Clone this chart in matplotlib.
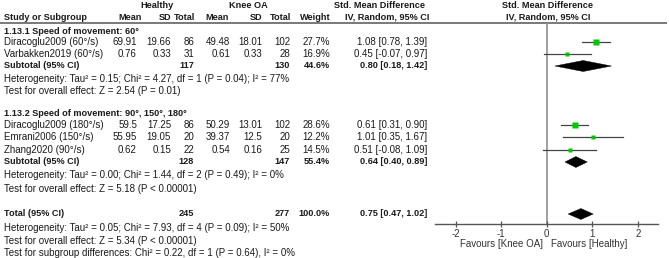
import matplotlib
matplotlib.use("Agg")
import matplotlib.pyplot as plt
from matplotlib.patches import Polygon

plt.rcParams['font.family'] = ['Liberation Sans', 'DejaVu Sans']

# ---------------- data ----------------
studies = ["Diracoglu2009 (60°/s)", "Varbakken2019 (60°/s)",
           "Diracoglu2009 (180°/s)", "Emrani2006 (150°/s)", "Zhang2020 (90°/s)"]
h_mean = [69.91, 0.76, 59.5, 55.95, 0.62]
h_sd = [19.66, 0.33, 17.25, 19.05, 0.15]
h_n = [86, 31, 86, 20, 22]
k_mean = [49.48, 0.61, 50.29, 39.37, 0.54]
k_sd = [18.01, 0.33, 13.01, 12.5, 0.16]
k_n = [102, 28, 102, 20, 25]
weights = [27.7, 16.9, 28.6, 12.2, 14.5]
smd = [1.08, 0.45, 0.61, 1.01, 0.51]
smd_lo = [0.78, -0.07, 0.31, 0.35, -0.08]
smd_hi = [1.39, 0.97, 0.90, 1.67, 1.09]

group_titles = ["1.13.1 Speed of movement: 60°", "1.13.2 Speed of movement: 90°, 150°, 180°"]
sub_h_n = [117, 128]
sub_k_n = [130, 147]
sub_w = [44.6, 55.4]
sub_smd = [0.80, 0.64]
sub_lo = [0.18, 0.40]
sub_hi = [1.42, 0.89]
sub_het = ["Heterogeneity: Tau² = 0.15; Chi² = 4.27, df = 1 (P = 0.04); I² = 77%",
           "Heterogeneity: Tau² = 0.00; Chi² = 1.44, df = 2 (P = 0.49); I² = 0%"]
sub_test = ["Test for overall effect: Z = 2.54 (P = 0.01)",
            "Test for overall effect: Z = 5.18 (P < 0.00001)"]

tot_h_n, tot_k_n, tot_w = 245, 277, 100.0
tot_smd, tot_lo, tot_hi = 0.75, 0.47, 1.02
tot_het = "Heterogeneity: Tau² = 0.05; Chi² = 7.93, df = 4 (P = 0.09); I² = 50%"
tot_test = "Test for overall effect: Z = 5.34 (P < 0.00001)"
subgroup_test = "Test for subgroup differences: Chi² = 0.22, df = 1 (P = 0.64), I² = 0%"

tick_vals = [-2, -1, 0, 1, 2]
fav_left, fav_right = "Favours [Knee OA]", "Favours [Healthy]"

# ---------------- layout ----------------
W, H = 669, 258
FS = 7.0      # normal text
FSB = 6.6     # bold text
TXT = '#1a1a1a'
GREEN = '#00c800'
fig = plt.figure(figsize=(W / 100, H / 100), dpi=100)
ax = fig.add_axes([0, 0, 1, 1])
ax.set_xlim(0, W)
ax.set_ylim(H, 0)
ax.axis('off')

zero_px, unit_px = 546.7, 45.6
x_left, x_right, axis_y = 435, 658, 224
fx = fig.add_axes([x_left / W, (H - axis_y) / H, (x_right - x_left) / W, axis_y / H])
fx.set_xlim((x_left - zero_px) / unit_px, (x_right - zero_px) / unit_px)
fx.set_ylim(axis_y, 0)
fx.patch.set_alpha(0)
for s in ['top', 'left', 'right']:
    fx.spines[s].set_visible(False)
fx.spines['bottom'].set_color('#555555')
fx.spines['bottom'].set_linewidth(1.0)
fx.set_yticks([])
fx.set_xticks(tick_vals)
fx.set_xticklabels([str(v) for v in tick_vals])
fx.tick_params(axis='x', direction='inout', length=5, width=0.9, color='#555555',
               labelsize=FS, labelcolor='#333333', pad=1.0)

# row positions (pixels from top)
study_rows = [[42, 54], [125, 137, 150]]
title_rows = [31, 113]
sub_rows = [66, 162]
het_rows = [79, 175]
test_rows = [91, 189]
tot_row, tot_het_row, tot_test_row, sg_row = 214, 228, 241, 253

cols = dict(hm=137, hsd=171, hn=194, km=230, ksd=262, kn=290, w=330, ci=427)


def txt(x, y, s, ha='left', bold=False, color=TXT):
    ax.text(x, y, s, ha=ha, va='center', fontsize=FSB if bold else FS,
            fontweight='bold' if bold else 'normal', color=color)


# headers
txt(157, 6, "Healthy", 'center', True)
txt(248, 6, "Knee OA", 'center', True)
txt(380, 6, "Std. Mean Difference", 'center', True)
txt(547, 6, "Std. Mean Difference", 'center', True)
txt(4, 17, "Study or Subgroup", 'left', True)
hdr = [("Mean", 142), ("SD", 171), ("Total", 195), ("Mean", 229), ("SD", 262), ("Total", 291), ("Weight", 331)]
for t, x in hdr:
    txt(x, 17, t, 'right', True)
txt(387, 17, "IV, Random, 95% CI", 'center', True)
txt(548, 17, "IV, Random, 95% CI", 'center', True)
ax.plot([0, 667], [23.3, 23.3], color='#555555', lw=1.1, solid_capstyle='butt')

# zero line
fx.plot([0, 0], [23.8, axis_y], color='#999999', lw=1.3, zorder=1)


def num(v):
    return f"{v:g}"


def diamond(y, est, lo, hi):
    half = 5.5
    fx.add_patch(Polygon([[lo, y], [est, y - half], [hi, y], [est, y + half]],
                         closed=True, facecolor='black', edgecolor='black', lw=0.3, zorder=3))


idx = 0
for g in range(2):
    txt(4, title_rows[g], group_titles[g], 'left', True)
    for y in study_rows[g]:
        i = idx
        txt(4, y, studies[i])
        vals = [(num(h_mean[i]), 'hm'), (num(h_sd[i]), 'hsd'), (str(h_n[i]), 'hn'),
                (num(k_mean[i]), 'km'), (num(k_sd[i]), 'ksd'), (str(k_n[i]), 'kn'),
                (f"{weights[i]:.1f}%", 'w'),
                (f"{smd[i]:.2f} [{smd_lo[i]:.2f}, {smd_hi[i]:.2f}]", 'ci')]
        for t, c in vals:
            txt(cols[c], y, t, 'right')
        fx.plot([smd_lo[i], smd_hi[i]], [y, y], color='#444444', lw=0.9, zorder=2)
        side_px = 1.2 + 0.15 * weights[i]
        fx.plot([smd[i]], [y], marker='s', ms=side_px * 0.72, color=GREEN, mec='none',
                ls='none', zorder=4)
        idx += 1
    y = sub_rows[g]
    txt(4, y, "Subtotal (95% CI)", 'left', True)
    for t, c in [(str(sub_h_n[g]), 'hn'), (str(sub_k_n[g]), 'kn'), (f"{sub_w[g]:.1f}%", 'w'),
                 (f"{sub_smd[g]:.2f} [{sub_lo[g]:.2f}, {sub_hi[g]:.2f}]", 'ci')]:
        txt(cols[c], y, t, 'right', True)
    diamond(y, sub_smd[g], sub_lo[g], sub_hi[g])
    txt(4, het_rows[g], sub_het[g])
    txt(4, test_rows[g], sub_test[g])

# total
y = tot_row
txt(4, y, "Total (95% CI)", 'left', True)
for t, c in [(str(tot_h_n), 'hn'), (str(tot_k_n), 'kn'), (f"{tot_w:.1f}%", 'w'),
             (f"{tot_smd:.2f} [{tot_lo:.2f}, {tot_hi:.2f}]", 'ci')]:
    txt(cols[c], y, t, 'right', True)
diamond(y, tot_smd, tot_lo, tot_hi)
txt(4, tot_het_row, tot_het)
txt(4, tot_test_row, tot_test)
txt(4, sg_row, subgroup_test)

# favours labels
txt(543, 244, fav_left, 'right', color='#333333')
txt(551, 244, fav_right, 'left', color='#333333')

fig.savefig("out.png", dpi=100)
